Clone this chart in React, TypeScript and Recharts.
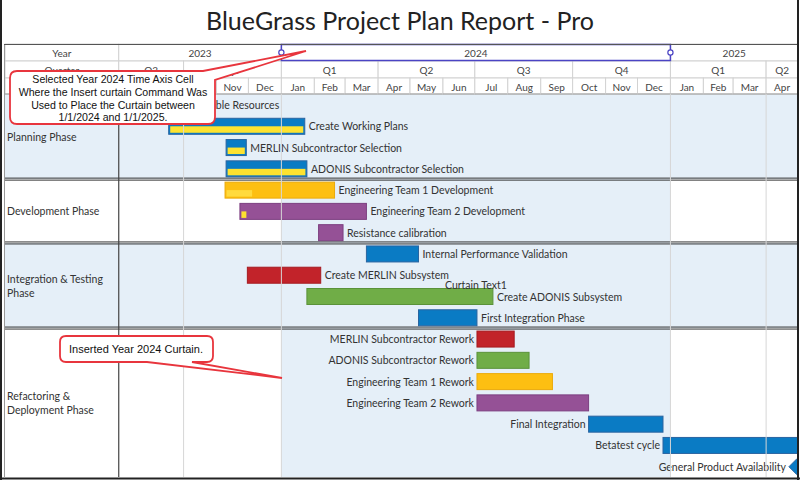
import React from 'react';
import { BarChart, Bar, XAxis, YAxis, ReferenceArea, ReferenceLine } from 'recharts';

const FONT = 'Lato, "Open Sans", sans-serif';
const NOTE_FONT = '"Liberation Sans", Arial, sans-serif';

const toDay = (iso: string) => {
  const [y, m, d] = iso.split('-').map(Number);
  return Date.UTC(y, m - 1, d) / 86400000;
};

// time window; the stretch before TIMELINE_START is the label column
const VIEW_START = '2023-04-16';
const TIMELINE_START = '2023-08-01';
const TIMELINE_END = '2025-05-01';

const CURTAIN_FROM = '2024-01-01';
const CURTAIN_TO = '2025-01-01';
const CURTAIN_TEXT = 'Curtain Text1';

const headerRowNames = ['Year', 'Quarter', ''];

const yearLabels = ['2023', '2024', '2025'];
const yearStarts = ['2023-01-01', '2024-01-01', '2025-01-01', '2026-01-01'];
const selectedYear = '2024';

const quarterLabels = ['Q3', 'Q4', 'Q1', 'Q2', 'Q3', 'Q4', 'Q1', 'Q2'];
const quarterStarts = ['2023-07-01', '2023-10-01', '2024-01-01', '2024-04-01', '2024-07-01', '2024-10-01', '2025-01-01', '2025-04-01', '2025-07-01'];

const monthLabels = ['Aug', 'Sep', 'Oct', 'Nov', 'Dec', 'Jan', 'Feb', 'Mar', 'Apr', 'May', 'Jun', 'Jul', 'Aug', 'Sep', 'Oct', 'Nov', 'Dec', 'Jan', 'Feb', 'Mar', 'Apr'];
const monthStarts = [
  '2023-08-01', '2023-09-01', '2023-10-01', '2023-11-01', '2023-12-01',
  '2024-01-01', '2024-02-01', '2024-03-01', '2024-04-01', '2024-05-01', '2024-06-01',
  '2024-07-01', '2024-08-01', '2024-09-01', '2024-10-01', '2024-11-01', '2024-12-01',
  '2025-01-01', '2025-02-01', '2025-03-01', '2025-04-01', '2025-05-01',
];

const groupLines = [['Planning Phase'], ['Development Phase'], ['Integration & Testing', 'Phase'], ['Refactoring &', 'Deployment Phase']];

const taskNames = [
  'Assemble Resources', 'Create Working Plans', 'MERLIN Subcontractor Selection', 'ADONIS Subcontractor Selection',
  'Engineering Team 1 Development', 'Engineering Team 2 Development', 'Resistance calibration',
  'Internal Performance Validation', 'Create MERLIN Subsystem', 'Create ADONIS Subsystem', 'First Integration Phase',
  'MERLIN Subcontractor Rework', 'ADONIS Subcontractor Rework', 'Engineering Team 1 Rework', 'Engineering Team 2 Rework',
  'Final Integration', 'Betatest cycle', 'General Product Availability',
];
const taskGroup = [0, 0, 0, 0, 1, 1, 1, 2, 2, 2, 2, 3, 3, 3, 3, 3, 3, 3];
const taskStarts = [
  '2023-08-28', '2023-09-17', '2023-11-10', '2023-11-10',
  '2023-11-09', '2023-11-23', '2024-02-05',
  '2024-03-21', '2023-11-30', '2024-01-25', '2024-05-09',
  '2024-07-03', '2024-07-03', '2024-07-03', '2024-07-03', '2024-10-16', '2024-12-25', '2025-04-30',
];
const taskEnds = [
  '2023-09-29', '2024-01-23', '2023-11-29', '2024-01-25',
  '2024-02-20', '2024-03-21', '2024-02-28',
  '2024-05-09', '2024-02-07', '2024-07-18', '2024-07-03',
  '2024-08-07', '2024-08-21', '2024-09-12', '2024-10-16', '2024-12-25', '2025-05-01', '2025-04-30',
];
const taskProgress = [100, 100, 100, 100, 24, 4, 0, 0, 0, 0, 0, 0, 0, 0, 0, 0, 0, 0];
const taskResource = [
  'blue', 'blue', 'blue', 'blue',
  'orange', 'purple', 'purple',
  'blue', 'red', 'green', 'blue',
  'red', 'green', 'orange', 'purple', 'blue', 'blue', 'blue',
];
const taskLabelSide = [
  'right', 'right', 'right', 'right', 'right', 'right', 'right', 'right', 'right', 'right', 'right',
  'left', 'left', 'left', 'left', 'left', 'left', 'left',
];

const PALETTE: Record<string, { fill: string; stroke: string; progress: string }> = {
  blue: { fill: '#0a7bc4', stroke: '#2a64a0', progress: '#fde230' },
  orange: { fill: '#fdbf12', stroke: '#eaaa0c', progress: '#ffda3e' },
  purple: { fill: '#955196', stroke: '#7c3f80', progress: '#fde230' },
  red: { fill: '#c2232a', stroke: '#a51b21', progress: '#fde230' },
  green: { fill: '#70ad47', stroke: '#5a9239', progress: '#fde230' },
};
const SHADE = '#e5eff8';
const SELECT = '#4b44c4';

const data = taskNames.map((name, i) => ({
  id: `t${i}`,
  name,
  span: [toDay(taskStarts[i]), toDay(taskEnds[i])],
  progress: taskProgress[i],
  resource: taskResource[i],
  side: taskLabelSide[i],
  milestone: taskStarts[i] === taskEnds[i],
}));

const groupRows = groupLines.map((_, g) => {
  const ids = data.filter((_, i) => taskGroup[i] === g).map((d) => d.id);
  return { first: ids[0], last: ids[ids.length - 1] };
});

const clip = (a: string, b: string) => [Math.max(toDay(a), toDay(TIMELINE_START)), Math.min(toDay(b), toDay(TIMELINE_END))];

// header rows: offset from plot top, height
const ROWS = [{ top: -50, h: 17 }, { top: -33, h: 17 }, { top: -16, h: 16 }];

const headerCells: { from: number; to: number; label: string; row: number }[] = [];
headerRowNames.forEach((label, row) => headerCells.push({ from: toDay(VIEW_START), to: toDay(TIMELINE_START), label, row }));
yearLabels.forEach((label, i) => {
  const [from, to] = clip(yearStarts[i], yearStarts[i + 1]);
  headerCells.push({ from, to, label, row: 0 });
});
quarterLabels.forEach((label, i) => {
  const [from, to] = clip(quarterStarts[i], quarterStarts[i + 1]);
  headerCells.push({ from, to, label, row: 1 });
});
monthLabels.forEach((label, i) => {
  const [from, to] = clip(monthStarts[i], monthStarts[i + 1]);
  headerCells.push({ from, to, label, row: 2 });
});
const selIdx = yearLabels.indexOf(selectedYear);
const selectedSpan = clip(yearStarts[selIdx], yearStarts[selIdx + 1]);

const gridLines = quarterStarts
  .map(toDay)
  .filter((d) => d > toDay(TIMELINE_START) && d < toDay(TIMELINE_END) && (d <= toDay(CURTAIN_FROM) || d >= toDay(CURTAIN_TO)));

function HeaderCell(props: any) {
  const { x, y, width, cell } = props;
  const r = ROWS[cell.row];
  const top = y + r.top;
  return (
    <g>
      <rect x={x} y={top} width={width} height={r.h} fill="#fff" stroke="#d2d2d2" strokeWidth={1} />
      {cell.row === 2 && <line x1={x} x2={x + width} y1={top + r.h} y2={top + r.h} stroke="#9a9a9a" />}
      <text x={x + width / 2} y={top + r.h / 2 + 0.5} textAnchor="middle" dominantBaseline="central"
        fontSize={10} fontFamily={FONT} fill="#444">{cell.label}</text>
    </g>
  );
}

function SelectedCell(props: any) {
  const { x, y, width } = props;
  const r = ROWS[0];
  const top = y + r.top;
  return (
    <g>
      <rect x={x} y={top + 0.5} width={width} height={r.h - 1} fill="none" stroke={SELECT} strokeWidth={1.5} />
      <circle cx={x} cy={top + r.h / 2} r={2.6} fill="#fff" stroke={SELECT} strokeWidth={1.2} />
      <circle cx={x + width} cy={top + r.h / 2} r={2.6} fill="#fff" stroke={SELECT} strokeWidth={1.2} />
    </g>
  );
}

function GroupBand(props: any) {
  const { x, y, width, height, index } = props;
  const lines: string[] = groupLines[index];
  const mid = y + height / 2;
  return (
    <g>
      {index % 2 === 0 && <rect x={x} y={y} width={width} height={height} fill={SHADE} />}
      {lines.map((t, k) => (
        <text key={k} x={x + 2} y={mid + (k - (lines.length - 1) / 2) * 14} dominantBaseline="central"
          fontSize={10.5} fontFamily={FONT} fill="#333">{t}</text>
      ))}
    </g>
  );
}

function GroupRule(props: any) {
  const { x, y, width } = props;
  return (
    <g>
      <line x1={x} x2={x + width} y1={y - 1} y2={y - 1} stroke="#333" strokeWidth={1} />
      <line x1={x} x2={x + width} y1={y + 1} y2={y + 1} stroke="#333" strokeWidth={1} />
    </g>
  );
}

function TaskShape(props: any) {
  const { x, y, width, height } = props;
  const p = props.payload || {};
  const c = PALETTE[p.resource] || PALETTE.blue;
  const cy = y + height / 2;
  const labelProps = { fontSize: 10.5, fontFamily: FONT, fill: '#333', dominantBaseline: 'central' as const };
  if (p.milestone) {
    const r = 8;
    return (
      <g>
        <polygon points={`${x},${cy - r} ${x + r},${cy} ${x},${cy + r} ${x - r},${cy}`} fill={c.fill} stroke={c.stroke} />
        <text x={x - r - 3} y={cy} textAnchor="end" {...labelProps}>{p.name}</text>
      </g>
    );
  }
  const pw = ((width - 3) * p.progress) / 100;
  return (
    <g>
      <rect x={x} y={y} width={width} height={height} fill={c.fill} stroke={c.stroke} strokeWidth={1} />
      {p.progress > 0 && (
        <rect x={x + 1.5} y={y + height * 0.5} width={pw} height={height * 0.5 - 1.5} fill={c.progress} />
      )}
      {p.side === 'left' ? (
        <text x={x - 3} y={cy} textAnchor="end" {...labelProps}>{p.name}</text>
      ) : (
        <text x={x + width + 4} y={cy} textAnchor="start" {...labelProps}>{p.name}</text>
      )}
    </g>
  );
}

function Overlay() {
  const red = '#e8353d';
  return (
    <svg width={800} height={480} style={{ position: 'absolute', left: 0, top: 0, pointerEvents: 'none' }}>
      <line x1={1} x2={1} y1={0} y2={480} stroke="#222" strokeWidth={2} />
      <line x1={798} x2={798} y1={0} y2={480} stroke="#222" strokeWidth={2} />
      <line x1={0} x2={800} y1={478.5} y2={478.5} stroke="#222" strokeWidth={2} />
      <line x1={4.5} x2={4.5} y1={44} y2={478} stroke="#999" strokeWidth={1} />
      <line x1={4} x2={797} y1={44.5} y2={44.5} stroke="#555" strokeWidth={1} />

      <path d="M17,71 H203 L306,51 L215,80 V117 Q215,124 208,124 H17 Q10,124 10,117 V78 Q10,71 17,71 Z"
        fill="#fff" stroke={red} strokeWidth={1.8} />
      <g fontFamily={NOTE_FONT} fontSize={10.6} fill="#111" textAnchor="middle">
        <text x={113} y={83}>Selected Year 2024 Time Axis Cell</text>
        <text x={113} y={96}>Where the Insert curtain Command Was</text>
        <text x={113} y={109}>Used to Place the Curtain between</text>
        <text x={113} y={121}>1/1/2024 and 1/1/2025.</text>
      </g>

      <path d="M66,336 H207 Q213,336 213,342 V356 Q213,362 207,362 H192 L282,378 L147,362 H66 Q60,362 60,356 V342 Q60,336 66,336 Z"
        fill="#fff" stroke={red} strokeWidth={1.8} />
      <text x={136} y={353} textAnchor="middle" fontFamily={NOTE_FONT} fontSize={11} fill="#111">Inserted Year 2024 Curtain.</text>
    </svg>
  );
}

export default function App() {
  return (
    <div style={{ position: 'absolute', left: 0, top: 0, width: 800, height: 480, background: '#fff', overflow: 'hidden' }}>
      <div style={{ position: 'absolute', left: 0, top: 4, width: 800, textAlign: 'center', fontFamily: FONT, fontSize: 25, lineHeight: '33px', color: '#222' }}>
        BlueGrass Project Plan Report - Pro
      </div>
      <div style={{ position: 'absolute', left: 0, top: 0 }}>
        <BarChart width={800} height={480} data={data} layout="vertical" margin={{ top: 94, right: 2, bottom: 3, left: 5 }} barSize={16}>
          <XAxis type="number" dataKey="span" domain={[toDay(VIEW_START), toDay(TIMELINE_END)]} allowDataOverflow hide />
          <YAxis type="category" dataKey="id" hide />

          {groupRows.map((g, i) => (
            <ReferenceArea key={`band${i}`} y1={g.first} y2={g.last} ifOverflow="visible" shape={(p: any) => <GroupBand {...p} index={i} />} />
          ))}
          {gridLines.map((d) => (
            <ReferenceLine key={`q${d}`} x={d} stroke="#d6d6d6" strokeWidth={1} />
          ))}
          <ReferenceArea x1={toDay(CURTAIN_FROM)} x2={toDay(CURTAIN_TO)} fill={SHADE} fillOpacity={1} stroke="none"
            label={{ value: CURTAIN_TEXT, position: 'center', fill: '#333', fontSize: 10.5, fontFamily: FONT }} />
          {groupRows.slice(1).map((g, i) => (
            <ReferenceArea key={`rule${i}`} y1={g.first} y2={g.last} ifOverflow="visible" shape={(p: any) => <GroupRule {...p} />} />
          ))}
          <ReferenceLine x={toDay(TIMELINE_START)} stroke="#444" strokeWidth={1.2} />
          {headerCells.map((cell, i) => (
            <ReferenceArea key={`h${i}`} x1={cell.from} x2={cell.to} ifOverflow="visible" shape={(p: any) => <HeaderCell {...p} cell={cell} />} />
          ))}
          <ReferenceArea x1={selectedSpan[0]} x2={selectedSpan[1]} ifOverflow="visible" shape={(p: any) => <SelectedCell {...p} />} />

          <Bar dataKey="span" isAnimationActive={false} shape={TaskShape} />
        </BarChart>
      </div>
      <Overlay />
    </div>
  );
}
